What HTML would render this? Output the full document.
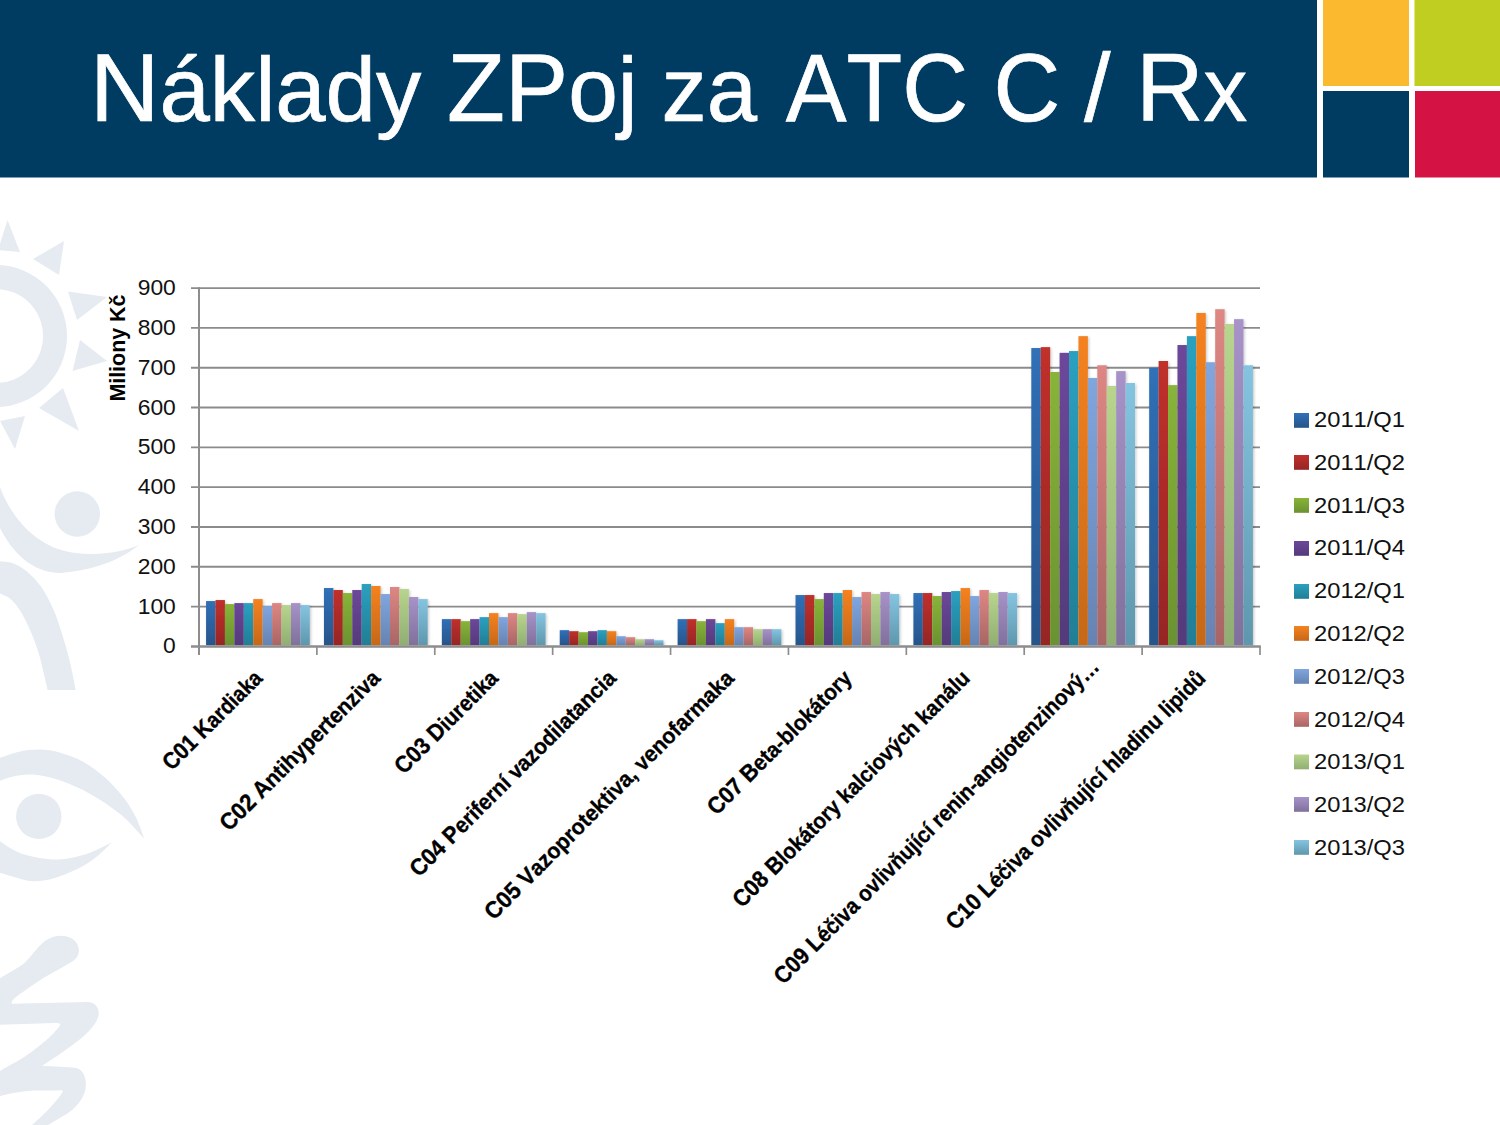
<!DOCTYPE html><html lang="cs"><head><meta charset="utf-8"><title>Náklady ZPoj za ATC C / Rx</title>
<style>html,body{margin:0;padding:0;background:#fff}body{width:1500px;height:1125px;overflow:hidden;font-family:"Liberation Sans",sans-serif}svg{display:block}text{font-family:"Liberation Sans",sans-serif}</style></head><body>
<svg width="1500" height="1125" viewBox="0 0 1500 1125">
<defs>
<linearGradient id="g0" x1="0" y1="0" x2="0" y2="1"><stop offset="0" stop-color="#3070b8"/><stop offset="1" stop-color="#27548a"/></linearGradient>
<linearGradient id="g1" x1="0" y1="0" x2="0" y2="1"><stop offset="0" stop-color="#c0302c"/><stop offset="1" stop-color="#962624"/></linearGradient>
<linearGradient id="g2" x1="0" y1="0" x2="0" y2="1"><stop offset="0" stop-color="#88b438"/><stop offset="1" stop-color="#6a9230"/></linearGradient>
<linearGradient id="g3" x1="0" y1="0" x2="0" y2="1"><stop offset="0" stop-color="#6c479a"/><stop offset="1" stop-color="#543a7a"/></linearGradient>
<linearGradient id="g4" x1="0" y1="0" x2="0" y2="1"><stop offset="0" stop-color="#2ba0c0"/><stop offset="1" stop-color="#217e95"/></linearGradient>
<linearGradient id="g5" x1="0" y1="0" x2="0" y2="1"><stop offset="0" stop-color="#f58220"/><stop offset="1" stop-color="#c66818"/></linearGradient>
<linearGradient id="g6" x1="0" y1="0" x2="0" y2="1"><stop offset="0" stop-color="#80a6de"/><stop offset="1" stop-color="#6583b2"/></linearGradient>
<linearGradient id="g7" x1="0" y1="0" x2="0" y2="1"><stop offset="0" stop-color="#de8784"/><stop offset="1" stop-color="#a86565"/></linearGradient>
<linearGradient id="g8" x1="0" y1="0" x2="0" y2="1"><stop offset="0" stop-color="#b7d58d"/><stop offset="1" stop-color="#90ae72"/></linearGradient>
<linearGradient id="g9" x1="0" y1="0" x2="0" y2="1"><stop offset="0" stop-color="#a793c8"/><stop offset="1" stop-color="#80709c"/></linearGradient>
<linearGradient id="g10" x1="0" y1="0" x2="0" y2="1"><stop offset="0" stop-color="#85c4e0"/><stop offset="1" stop-color="#5e97ad"/></linearGradient>
<filter id="sh" x="-20%" y="-5%" width="140%" height="110%"><feGaussianBlur in="SourceAlpha" stdDeviation="1.6"/><feOffset dx="1" dy="1"/><feComponentTransfer><feFuncA type="linear" slope="0.24"/></feComponentTransfer><feMerge><feMergeNode/><feMergeNode in="SourceGraphic"/></feMerge></filter>
</defs>
<rect width="1500" height="1125" fill="#ffffff"/>
<g id="wm" fill="#e6ebf1">
<path fill-rule="evenodd" d="M-4 265a71 71 0 1 1 0 142a71 71 0 1 1 0-142zM-4 289a47 47 0 1 0 0 94a47 47 0 1 0 0-94z"/>
<path d="M7.5 220L20 252L-2 250z"/><path d="M64 241L59 275L33 259z"/><path d="M107 297L77 320L68 291.5z"/><path d="M107 361L72.5 371L80 340z"/><path d="M79 431L39 408L63 388z"/><path d="M15 449L0 421L25 416z"/>
<circle cx="77.3" cy="514" r="22.7"/>
<path d="M0 487C10 515 35 548 75 553C100 556 122 552 139 545C120 560 95 570 61 573C32 573 12 552 0 528z"/>
<path d="M-2.0 561.0C0.4 561.3 7.5 561.3 12.3 563.0C17.1 564.7 21.8 567.3 26.6 571.2C31.4 575.1 36.5 580.3 40.9 586.6C45.3 592.9 49.8 601.5 53.2 609.0C56.6 616.5 58.6 623.1 61.3 631.6C64.0 640.1 67.1 650.5 69.5 660.2C71.9 669.9 74.7 685.0 75.7 690.0L47.6 690.0C47.0 687.4 45.5 680.5 44.0 674.5C42.5 668.5 41.1 661.1 38.9 654.0C36.7 646.9 33.8 638.8 30.7 631.6C27.6 624.5 23.8 616.6 20.4 611.1C17.0 605.6 13.9 601.9 10.2 598.8C6.5 595.7 0.0 593.7 -2.0 592.7z"/>
<path d="M-2.0 758.5C1.4 757.4 11.2 753.4 18.1 751.9C25.0 750.4 32.2 749.5 39.3 749.6C46.3 749.7 53.1 750.7 60.4 752.7C67.7 754.7 75.5 757.4 83.1 761.7C90.6 766.0 98.9 772.2 105.7 778.3C112.5 784.3 118.9 791.5 123.9 798.0C129.0 804.5 132.6 810.8 136.0 817.6C139.4 824.4 142.9 835.3 144.3 838.8L144.3 838.8C140.4 834.8 129.8 822.0 120.8 814.6C111.8 807.2 100.7 799.9 90.6 794.2C80.5 788.5 70.0 783.9 60.4 780.6C50.8 777.3 40.8 775.4 33.2 774.6C25.7 773.9 21.0 775.0 15.1 776.1C9.2 777.2 0.9 780.6 -2.0 781.5z"/>
<circle cx="38.8" cy="816.4" r="22.7"/>
<path d="M-2.0 840.0C0.9 841.8 9.7 848.1 15.1 850.8C20.5 853.5 24.4 854.7 30.2 856.1C36.0 857.5 43.5 858.8 49.8 859.2C56.1 859.6 61.2 859.5 68.0 858.4C74.8 857.3 83.3 855.0 90.6 852.4C97.9 849.8 108.3 844.1 111.8 842.5L111.8 842.5C109.5 844.6 103.0 851.5 98.2 855.4C93.4 859.3 88.9 862.7 83.1 866.0C77.3 869.3 69.7 872.6 63.4 875.0C57.1 877.4 50.8 879.3 45.3 880.3C39.8 881.3 35.2 881.6 30.2 881.1C25.2 880.6 20.5 878.8 15.1 877.3C9.7 875.8 0.9 872.9 -2.0 872.0z"/>
<path d="M54.7 936.4C62 935 70 936 75 941C81 948 80 956 73 961C62 968 45 976 30 987C20 994 10 1000 11.8 1003.8L87.5 1002C95 1002 100 1008 98.4 1016C96 1026 85 1036 69 1047.6C58 1056 48 1062 42 1065.8L73 1067.6C82 1068 87 1076 85.7 1087.7C84 1100 74 1110 62 1116.8L48 1125L32 1125C42 1116 54 1105 62 1093C64 1090 62 1090 58 1090.4L36.5 1090.4C20 1091 8 1094 0 1096L0 1071C10 1065 20 1060 27 1055C40 1046 52 1036 60 1025.7C61 1023 58 1023 54.7 1023L0 1024.8L0 978.3C10 972 18 968 23.7 963.7C30 958 34 952 38.3 947.3C43 942 48 938 54.7 936.4z"/>
</g>
<rect x="0" y="0" width="1317" height="177.5" fill="#003c62"/>
<rect x="1323" y="0" width="86" height="86" fill="#fbb92f"/><rect x="1414.5" y="0" width="85.5" height="86" fill="#bfce20"/>
<rect x="1323" y="91" width="86" height="86.5" fill="#003c62"/><rect x="1415" y="91" width="85" height="86.5" fill="#d41243"/>
<g fill="#ffffff" stroke="#ffffff" stroke-width="0.7" style="font-kerning:none">
<text transform="translate(90.04 121) scale(0.9954 1)"><tspan font-size="96.6">N</tspan><tspan font-size="91">áklady</tspan></text>
<text transform="translate(447.06 121) scale(0.9811 1)"><tspan font-size="96.6">ZP</tspan><tspan font-size="91">oj</tspan></text>
<text transform="translate(661.52 121) scale(0.9946 1)"><tspan font-size="91">za</tspan></text>
<text transform="translate(785.76 121) scale(0.9447 1)"><tspan font-size="96.6">ATC</tspan></text>
<text transform="translate(993.51 121) scale(0.9574 1)"><tspan font-size="96.6">C</tspan></text>
<text transform="translate(1084.0 121) scale(0.9889 1)"><tspan font-size="96.6">/</tspan></text>
<text transform="translate(1136.3 121) scale(0.9623 1)"><tspan font-size="96.6">R</tspan><tspan font-size="91">x</tspan></text>
</g>
<g stroke="#8b8b8b" stroke-width="1.9" fill="none">
<path d="M191 606.59H1260.0"/>
<path d="M191 566.78H1260.0"/>
<path d="M191 526.97H1260.0"/>
<path d="M191 487.16H1260.0"/>
<path d="M191 447.35H1260.0"/>
<path d="M191 407.54H1260.0"/>
<path d="M191 367.73H1260.0"/>
<path d="M191 327.92H1260.0"/>
<path d="M191 288.11H1260.0"/>
</g>
<g filter="url(#sh)">
<rect x="206.07" y="601.06" width="9.43" height="44.14" fill="url(#g0)"/>
<rect x="215.50" y="600.06" width="9.43" height="45.14" fill="url(#g1)"/>
<rect x="224.94" y="604.08" width="9.43" height="41.12" fill="url(#g2)"/>
<rect x="234.37" y="603.09" width="9.43" height="42.11" fill="url(#g3)"/>
<rect x="243.80" y="603.09" width="9.43" height="42.11" fill="url(#g4)"/>
<rect x="253.23" y="599.07" width="9.43" height="46.13" fill="url(#g5)"/>
<rect x="262.66" y="606.07" width="9.43" height="39.13" fill="url(#g6)"/>
<rect x="272.09" y="603.09" width="9.43" height="42.11" fill="url(#g7)"/>
<rect x="281.52" y="605.08" width="9.43" height="40.12" fill="url(#g8)"/>
<rect x="290.95" y="603.09" width="9.43" height="42.11" fill="url(#g9)"/>
<rect x="300.38" y="605.08" width="9.43" height="40.12" fill="url(#g10)"/>
<rect x="323.96" y="588.04" width="9.43" height="57.16" fill="url(#g0)"/>
<rect x="333.39" y="590.03" width="9.43" height="55.17" fill="url(#g1)"/>
<rect x="342.82" y="593.05" width="9.43" height="52.15" fill="url(#g2)"/>
<rect x="352.26" y="590.03" width="9.43" height="55.17" fill="url(#g3)"/>
<rect x="361.69" y="584.02" width="9.43" height="61.18" fill="url(#g4)"/>
<rect x="371.12" y="586.01" width="9.43" height="59.19" fill="url(#g5)"/>
<rect x="380.55" y="594.05" width="9.43" height="51.15" fill="url(#g6)"/>
<rect x="389.98" y="587.00" width="9.43" height="58.20" fill="url(#g7)"/>
<rect x="399.41" y="589.03" width="9.43" height="56.17" fill="url(#g8)"/>
<rect x="408.84" y="597.04" width="9.43" height="48.16" fill="url(#g9)"/>
<rect x="418.27" y="599.07" width="9.43" height="46.13" fill="url(#g10)"/>
<rect x="441.85" y="619.13" width="9.43" height="26.07" fill="url(#g0)"/>
<rect x="451.28" y="619.13" width="9.43" height="26.07" fill="url(#g1)"/>
<rect x="460.71" y="621.16" width="9.43" height="24.04" fill="url(#g2)"/>
<rect x="470.14" y="619.13" width="9.43" height="26.07" fill="url(#g3)"/>
<rect x="479.58" y="617.14" width="9.43" height="28.06" fill="url(#g4)"/>
<rect x="489.01" y="613.12" width="9.43" height="32.08" fill="url(#g5)"/>
<rect x="498.44" y="617.14" width="9.43" height="28.06" fill="url(#g6)"/>
<rect x="507.87" y="613.12" width="9.43" height="32.08" fill="url(#g7)"/>
<rect x="517.30" y="614.11" width="9.43" height="31.09" fill="url(#g8)"/>
<rect x="526.73" y="612.12" width="9.43" height="33.08" fill="url(#g9)"/>
<rect x="536.16" y="613.12" width="9.43" height="32.08" fill="url(#g10)"/>
<rect x="559.74" y="630.16" width="9.43" height="15.04" fill="url(#g0)"/>
<rect x="569.17" y="631.19" width="9.43" height="14.01" fill="url(#g1)"/>
<rect x="578.60" y="632.19" width="9.43" height="13.01" fill="url(#g2)"/>
<rect x="588.03" y="631.19" width="9.43" height="14.01" fill="url(#g3)"/>
<rect x="597.46" y="630.16" width="9.43" height="15.04" fill="url(#g4)"/>
<rect x="606.90" y="631.19" width="9.43" height="14.01" fill="url(#g5)"/>
<rect x="616.33" y="636.21" width="9.43" height="8.99" fill="url(#g6)"/>
<rect x="625.76" y="637.20" width="9.43" height="8.00" fill="url(#g7)"/>
<rect x="635.19" y="639.19" width="9.43" height="6.01" fill="url(#g8)"/>
<rect x="644.62" y="639.19" width="9.43" height="6.01" fill="url(#g9)"/>
<rect x="654.05" y="640.23" width="9.43" height="4.97" fill="url(#g10)"/>
<rect x="677.63" y="619.13" width="9.43" height="26.07" fill="url(#g0)"/>
<rect x="687.06" y="619.13" width="9.43" height="26.07" fill="url(#g1)"/>
<rect x="696.49" y="621.16" width="9.43" height="24.04" fill="url(#g2)"/>
<rect x="705.92" y="619.13" width="9.43" height="26.07" fill="url(#g3)"/>
<rect x="715.35" y="623.15" width="9.43" height="22.05" fill="url(#g4)"/>
<rect x="724.78" y="619.13" width="9.43" height="26.07" fill="url(#g5)"/>
<rect x="734.22" y="627.17" width="9.43" height="18.03" fill="url(#g6)"/>
<rect x="743.65" y="627.17" width="9.43" height="18.03" fill="url(#g7)"/>
<rect x="753.08" y="629.16" width="9.43" height="16.04" fill="url(#g8)"/>
<rect x="762.51" y="629.16" width="9.43" height="16.04" fill="url(#g9)"/>
<rect x="771.94" y="629.16" width="9.43" height="16.04" fill="url(#g10)"/>
<rect x="795.52" y="595.05" width="9.43" height="50.15" fill="url(#g0)"/>
<rect x="804.95" y="595.05" width="9.43" height="50.15" fill="url(#g1)"/>
<rect x="814.38" y="599.07" width="9.43" height="46.13" fill="url(#g2)"/>
<rect x="823.81" y="593.05" width="9.43" height="52.15" fill="url(#g3)"/>
<rect x="833.24" y="593.05" width="9.43" height="52.15" fill="url(#g4)"/>
<rect x="842.67" y="590.03" width="9.43" height="55.17" fill="url(#g5)"/>
<rect x="852.10" y="597.04" width="9.43" height="48.16" fill="url(#g6)"/>
<rect x="861.54" y="592.02" width="9.43" height="53.18" fill="url(#g7)"/>
<rect x="870.97" y="594.05" width="9.43" height="51.15" fill="url(#g8)"/>
<rect x="880.40" y="592.02" width="9.43" height="53.18" fill="url(#g9)"/>
<rect x="889.83" y="594.05" width="9.43" height="51.15" fill="url(#g10)"/>
<rect x="913.41" y="593.05" width="9.43" height="52.15" fill="url(#g0)"/>
<rect x="922.84" y="593.05" width="9.43" height="52.15" fill="url(#g1)"/>
<rect x="932.27" y="596.04" width="9.43" height="49.16" fill="url(#g2)"/>
<rect x="941.70" y="592.02" width="9.43" height="53.18" fill="url(#g3)"/>
<rect x="951.13" y="591.06" width="9.43" height="54.14" fill="url(#g4)"/>
<rect x="960.56" y="588.04" width="9.43" height="57.16" fill="url(#g5)"/>
<rect x="969.99" y="596.04" width="9.43" height="49.16" fill="url(#g6)"/>
<rect x="979.42" y="590.03" width="9.43" height="55.17" fill="url(#g7)"/>
<rect x="988.86" y="593.05" width="9.43" height="52.15" fill="url(#g8)"/>
<rect x="998.29" y="592.02" width="9.43" height="53.18" fill="url(#g9)"/>
<rect x="1007.72" y="593.05" width="9.43" height="52.15" fill="url(#g10)"/>
<rect x="1031.30" y="348.06" width="9.43" height="297.14" fill="url(#g0)"/>
<rect x="1040.73" y="347.15" width="9.43" height="298.05" fill="url(#g1)"/>
<rect x="1050.16" y="371.99" width="9.43" height="273.21" fill="url(#g2)"/>
<rect x="1059.59" y="352.84" width="9.43" height="292.36" fill="url(#g3)"/>
<rect x="1069.02" y="351.05" width="9.43" height="294.15" fill="url(#g4)"/>
<rect x="1078.45" y="336.16" width="9.43" height="309.04" fill="url(#g5)"/>
<rect x="1087.88" y="378.00" width="9.43" height="267.20" fill="url(#g6)"/>
<rect x="1097.31" y="365.26" width="9.43" height="279.94" fill="url(#g7)"/>
<rect x="1106.74" y="386.00" width="9.43" height="259.20" fill="url(#g8)"/>
<rect x="1116.18" y="371.11" width="9.43" height="274.09" fill="url(#g9)"/>
<rect x="1125.61" y="382.98" width="9.43" height="262.22" fill="url(#g10)"/>
<rect x="1149.18" y="367.73" width="9.43" height="277.47" fill="url(#g0)"/>
<rect x="1158.62" y="361.00" width="9.43" height="284.20" fill="url(#g1)"/>
<rect x="1168.05" y="385.13" width="9.43" height="260.07" fill="url(#g2)"/>
<rect x="1177.48" y="345.04" width="9.43" height="300.16" fill="url(#g3)"/>
<rect x="1186.91" y="336.16" width="9.43" height="309.04" fill="url(#g4)"/>
<rect x="1196.34" y="312.95" width="9.43" height="332.25" fill="url(#g5)"/>
<rect x="1205.77" y="362.24" width="9.43" height="282.96" fill="url(#g6)"/>
<rect x="1215.20" y="309.21" width="9.43" height="335.99" fill="url(#g7)"/>
<rect x="1224.63" y="323.94" width="9.43" height="321.26" fill="url(#g8)"/>
<rect x="1234.06" y="319.16" width="9.43" height="326.04" fill="url(#g9)"/>
<rect x="1243.50" y="365.26" width="9.43" height="279.94" fill="url(#g10)"/>
</g>
<g stroke="#8d8d8d" stroke-width="1.7" fill="none">
<path d="M199.0 287.2V655" stroke-width="2"/><path d="M191 646.4H1260.8" stroke-width="2.5"/>
<path d="M316.89 646.4V655"/>
<path d="M434.78 646.4V655"/>
<path d="M552.67 646.4V655"/>
<path d="M670.56 646.4V655"/>
<path d="M788.44 646.4V655"/>
<path d="M906.33 646.4V655"/>
<path d="M1024.22 646.4V655"/>
<path d="M1142.11 646.4V655"/>
<path d="M1260.00 646.4V655"/>
</g>
<g font-size="21.6" fill="#111" text-anchor="end">
<text x="175.8" y="653.40" textLength="12.7" lengthAdjust="spacingAndGlyphs">0</text>
<text x="175.8" y="613.59" textLength="38.1" lengthAdjust="spacingAndGlyphs">100</text>
<text x="175.8" y="573.78" textLength="38.1" lengthAdjust="spacingAndGlyphs">200</text>
<text x="175.8" y="533.97" textLength="38.1" lengthAdjust="spacingAndGlyphs">300</text>
<text x="175.8" y="494.16" textLength="38.1" lengthAdjust="spacingAndGlyphs">400</text>
<text x="175.8" y="454.35" textLength="38.1" lengthAdjust="spacingAndGlyphs">500</text>
<text x="175.8" y="414.54" textLength="38.1" lengthAdjust="spacingAndGlyphs">600</text>
<text x="175.8" y="374.73" textLength="38.1" lengthAdjust="spacingAndGlyphs">700</text>
<text x="175.8" y="334.92" textLength="38.1" lengthAdjust="spacingAndGlyphs">800</text>
<text x="175.8" y="295.11" textLength="38.1" lengthAdjust="spacingAndGlyphs">900</text>
</g>
<text transform="translate(125.3 401.6) rotate(-90)" font-size="22.8" font-weight="bold" fill="#000" textLength="107" lengthAdjust="spacingAndGlyphs">Miliony Kč</text>
<g font-size="23.5" font-weight="bold" fill="#000" stroke="#000" stroke-width="0.35" text-anchor="end">
<text transform="translate(263.7 679.6) rotate(-45)" textLength="130.1" lengthAdjust="spacingAndGlyphs"><tspan font-size="23.5">C01 K</tspan><tspan font-size="22.3">ardiaka</tspan></text>
<text transform="translate(381.6 679.6) rotate(-45)" textLength="215.9" lengthAdjust="spacingAndGlyphs"><tspan font-size="23.5">C02 A</tspan><tspan font-size="22.3">ntihypertenziva</tspan></text>
<text transform="translate(499.5 679.6) rotate(-45)" textLength="135.4" lengthAdjust="spacingAndGlyphs"><tspan font-size="23.5">C03 D</tspan><tspan font-size="22.3">iuretika</tspan></text>
<text transform="translate(617.4 679.6) rotate(-45)" textLength="280.7" lengthAdjust="spacingAndGlyphs"><tspan font-size="23.5">C04 P</tspan><tspan font-size="22.3">eriferní vazodilatancia</tspan></text>
<text transform="translate(735.3 679.6) rotate(-45)" textLength="341.5" lengthAdjust="spacingAndGlyphs"><tspan font-size="23.5">C05 V</tspan><tspan font-size="22.3">azoprotektiva, venofarmaka</tspan></text>
<text transform="translate(853.2 679.6) rotate(-45)" textLength="193.4" lengthAdjust="spacingAndGlyphs"><tspan font-size="23.5">C07 B</tspan><tspan font-size="22.3">eta-blokátory</tspan></text>
<text transform="translate(971.1 679.6) rotate(-45)" textLength="324.1" lengthAdjust="spacingAndGlyphs"><tspan font-size="23.5">C08 B</tspan><tspan font-size="22.3">lokátory kalciových kanálu</tspan></text>
<text transform="translate(1100.4 668.2) rotate(-45)" textLength="448.6" lengthAdjust="spacingAndGlyphs"><tspan font-size="23.5">C09 L</tspan><tspan font-size="22.3">éčiva ovlivňující renin-angiotenzinový…</tspan></text>
<text transform="translate(1206.9 679.6) rotate(-45)" textLength="355.9" lengthAdjust="spacingAndGlyphs"><tspan font-size="23.5">C10 L</tspan><tspan font-size="22.3">éčiva ovlivňující hladinu lipidů</tspan></text>
</g>
<g font-size="22.6" fill="#111" style="font-kerning:none">
<rect x="1294" y="413" width="15" height="14.8" fill="url(#g0)"/>
<text x="1314" y="427.1" textLength="91" lengthAdjust="spacingAndGlyphs">2011/Q1</text>
<rect x="1294" y="455" width="15" height="14.8" fill="url(#g1)"/>
<text x="1314" y="469.9" textLength="91" lengthAdjust="spacingAndGlyphs">2011/Q2</text>
<rect x="1294" y="498" width="15" height="14.8" fill="url(#g2)"/>
<text x="1314" y="512.7" textLength="91" lengthAdjust="spacingAndGlyphs">2011/Q3</text>
<rect x="1294" y="541" width="15" height="14.8" fill="url(#g3)"/>
<text x="1314" y="555.4" textLength="91" lengthAdjust="spacingAndGlyphs">2011/Q4</text>
<rect x="1294" y="584" width="15" height="14.8" fill="url(#g4)"/>
<text x="1314" y="598.2" textLength="91" lengthAdjust="spacingAndGlyphs">2012/Q1</text>
<rect x="1294" y="626" width="15" height="14.8" fill="url(#g5)"/>
<text x="1314" y="641.0" textLength="91" lengthAdjust="spacingAndGlyphs">2012/Q2</text>
<rect x="1294" y="669" width="15" height="14.8" fill="url(#g6)"/>
<text x="1314" y="683.8" textLength="91" lengthAdjust="spacingAndGlyphs">2012/Q3</text>
<rect x="1294" y="712" width="15" height="14.8" fill="url(#g7)"/>
<text x="1314" y="726.6" textLength="91" lengthAdjust="spacingAndGlyphs">2012/Q4</text>
<rect x="1294" y="754.5" width="15" height="14.8" fill="url(#g8)"/>
<text x="1314" y="769.3" textLength="91" lengthAdjust="spacingAndGlyphs">2013/Q1</text>
<rect x="1294" y="797" width="15" height="14.8" fill="url(#g9)"/>
<text x="1314" y="812.1" textLength="91" lengthAdjust="spacingAndGlyphs">2013/Q2</text>
<rect x="1294" y="840" width="15" height="14.8" fill="url(#g10)"/>
<text x="1314" y="854.9" textLength="91" lengthAdjust="spacingAndGlyphs">2013/Q3</text>
</g>
</svg></body></html>
